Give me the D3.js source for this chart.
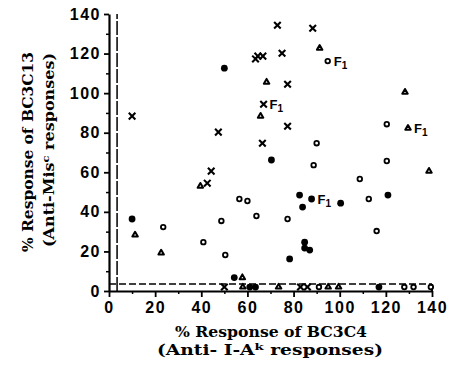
<!DOCTYPE html>
<html><head><meta charset="utf-8">
<script src="https://cdn.jsdelivr.net/npm/d3@7"></script>
<style>body{margin:0;background:#fff}</style>
</head><body><svg id="c" width="450" height="367"></svg>
<script>
// ---- data ----
const xTicks = [0, 20, 40, 60, 80, 100, 120, 140];
const yTicks = [0, 20, 40, 60, 80, 100, 120, 140];
const minorTicks = [10, 30, 50, 70, 90, 110, 130];
const threshold = 3.5;

const crosses = [[10, 88.4], [47.4, 80.3], [66.5, 74.7], [44.3, 60.6], [42.6, 54.5],
  [63.5, 117.3], [64.5, 118.7], [66.7, 118.7], [67, 94.4], [73, 134.3], [75, 120.2],
  [77.4, 104.5], [77.4, 83.3], [88.3, 132.8], [50, 2], [83, 2], [86, 2]];
const openCircles = [[23.5, 32.3], [40.9, 24.7], [48.7, 35.4], [50.4, 18.2], [56.5, 46.5],
  [60, 45.5], [63.9, 37.9], [77.4, 36.4], [88.7, 63.6], [90, 74.7], [94.8, 116.2],
  [108.7, 56.6], [112.6, 46.5], [116, 30.3], [120.4, 65.7], [120.4, 84.3],
  [91, 2], [128, 2], [132, 2], [139.5, 2]];
const filledCircles = [[10, 36.4], [50, 112.6], [54.3, 6.8], [70.4, 66.2], [78.3, 16.2],
  [82.6, 48.5], [83.9, 42.4], [84.8, 24.7], [84.8, 21.7], [87, 20.7], [87.8, 46.5],
  [100.4, 44.4], [120.9, 48.5], [61, 2], [63.5, 2], [117, 2]];
const triangles = [[11.3, 28.3], [22.6, 19.2], [39.6, 53], [57.8, 6.8], [65.7, 88.4],
  [68.3, 105.6], [91.3, 122.7], [128.3, 100.5], [129.6, 82.3], [138.7, 60.6],
  [58, 2], [73.5, 2], [95, 2], [99.5, 2]];
const f1Points = [[67, 94.4], [94.8, 116.2], [129.6, 82.3], [87.8, 46.5]];

// ---- chart ----
const svg = d3.select("#c");
const x = d3.scaleLinear([0, 140], [109, 432]);
const y = d3.scaleLinear([0, 140], [291, 14]);
const tickFont = "bold 16px 'Liberation Sans', Arial, sans-serif";
const titleFont = "bold 14px 'DejaVu Serif', serif";

// minor ticks
svg.append("g").attr("transform", `translate(0,${y(0)})`)
  .call(d3.axisBottom(x).tickValues(minorTicks).tickSize(3).tickSizeOuter(0).tickFormat(""))
  .call(g => g.select(".domain").remove())
  .call(g => g.selectAll("line").attr("stroke-width", 1.5));
svg.append("g").attr("transform", `translate(${x(0)},0)`)
  .call(d3.axisLeft(y).tickValues(minorTicks).tickSize(3).tickSizeOuter(0).tickFormat(""))
  .call(g => g.select(".domain").remove())
  .call(g => g.selectAll("line").attr("stroke-width", 1.5));

// x axis
svg.append("g").attr("transform", `translate(0,${y(0)})`)
  .call(d3.axisBottom(x).tickValues(xTicks).tickSize(6).tickSizeOuter(0).tickPadding(5))
  .call(g => g.select(".domain").attr("stroke-width", 2.2))
  .call(g => g.selectAll("line").attr("stroke-width", 1.8))
  .call(g => g.selectAll("text").style("font", tickFont).attr("fill", "#000")
    .style("letter-spacing", "1.5px"));

// y axis
svg.append("g").attr("transform", `translate(${x(0)},0)`)
  .call(d3.axisLeft(y).tickValues(yTicks).tickSize(5).tickSizeOuter(0).tickPadding(3))
  .call(g => g.select(".domain").attr("stroke-width", 2.2))
  .call(g => g.selectAll("line").attr("stroke-width", 1.8))
  .call(g => g.selectAll("text").style("font", tickFont).attr("fill", "#000")
    .style("letter-spacing", "1.5px"));

// threshold lines
svg.append("line").attr("x1", x(threshold)).attr("x2", x(threshold))
  .attr("y1", y(0)).attr("y2", y(140))
  .attr("stroke", "#000").attr("stroke-width", 1.5).attr("stroke-dasharray", "14,2");
svg.append("line").attr("x1", x(0)).attr("x2", x(140))
  .attr("y1", y(threshold)).attr("y2", y(threshold))
  .attr("stroke", "#000").attr("stroke-width", 1.5).attr("stroke-dasharray", "7,3");
svg.append("line").attr("x1", x(140)).attr("x2", x(140))
  .attr("y1", y(threshold)).attr("y2", y(0))
  .attr("stroke", "#000").attr("stroke-width", 2);

// markers
const sym = (type, size) => d3.symbol().type(type).size(size);
svg.append("g").selectAll("path").data(crosses).join("path")
  .attr("transform", d => `translate(${x(d[0])},${y(d[1])})`)
  .attr("d", sym(d3.symbolTimes, 30)).attr("fill", "none")
  .attr("stroke", "#000").attr("stroke-width", 2.1);
svg.append("g").selectAll("circle").data(openCircles).join("circle")
  .attr("cx", d => x(d[0])).attr("cy", d => y(d[1])).attr("r", 2.3)
  .attr("fill", "#fff").attr("stroke", "#000").attr("stroke-width", 1.8);
svg.append("g").selectAll("circle").data(filledCircles).join("circle")
  .attr("cx", d => x(d[0])).attr("cy", d => y(d[1])).attr("r", 3.4)
  .attr("fill", "#000");
svg.append("g").selectAll("path").data(triangles).join("path")
  .attr("transform", d => `translate(${x(d[0])},${y(d[1])})`)
  .attr("d", sym(d3.symbolTriangle, 13)).attr("fill", "#fff")
  .attr("stroke", "#000").attr("stroke-width", 2).attr("stroke-linejoin", "round");

// F1 labels
const f1 = svg.append("g").selectAll("text").data(f1Points).join("text")
  .attr("x", d => x(d[0]) + 6).attr("y", d => y(d[1]) + 5)
  .style("font", "bold 13px 'Liberation Sans', Arial, sans-serif");
f1.append("tspan").text("F");
f1.append("tspan").attr("dy", 3).style("font-size", "10px").text("1");

// axis titles
svg.append("text").attr("x", 271).attr("y", 337).attr("text-anchor", "middle")
  .style("font", titleFont).attr("textLength", 192).attr("lengthAdjust", "spacingAndGlyphs")
  .text("% Response of BC3C4");
const xt2 = svg.append("text").attr("x", 270).attr("y", 355).attr("text-anchor", "middle")
  .style("font", titleFont).attr("textLength", 226).attr("lengthAdjust", "spacingAndGlyphs");
xt2.append("tspan").text("(Anti- I-A");
xt2.append("tspan").attr("dy", -5).style("font-size", "10px").text("k");
xt2.append("tspan").attr("dy", 5).text(" responses)");

svg.append("text").attr("transform", "translate(33,152) rotate(-90)")
  .attr("text-anchor", "middle").style("font", titleFont)
  .attr("textLength", 200).attr("lengthAdjust", "spacingAndGlyphs")
  .text("% Response of BC3C13");
const yt2 = svg.append("text").attr("transform", "translate(54,150) rotate(-90)")
  .attr("text-anchor", "middle").style("font", titleFont)
  .attr("textLength", 194).attr("lengthAdjust", "spacingAndGlyphs");
yt2.append("tspan").text("(Anti-Mis");
yt2.append("tspan").attr("dy", -5).style("font-size", "10px").text("c");
yt2.append("tspan").attr("dy", 5).text(" responses)");
</script></body></html>
